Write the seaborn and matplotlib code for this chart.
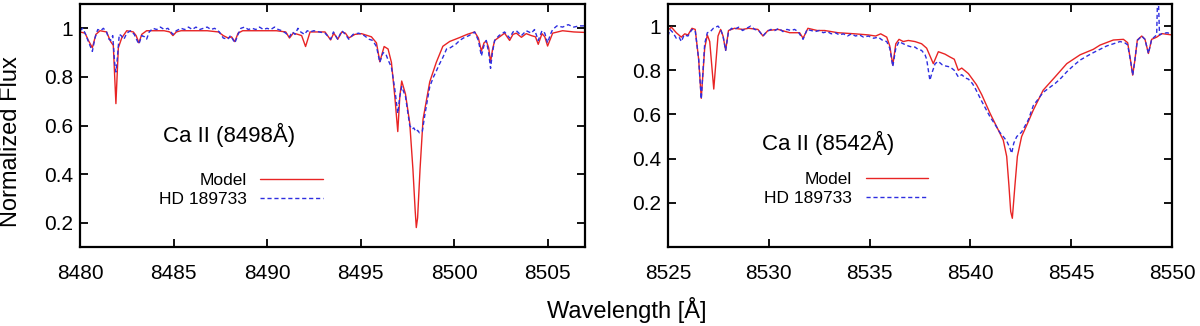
import numpy as np
import pandas as pd
import matplotlib
matplotlib.use('Agg')
import matplotlib.pyplot as plt
import seaborn as sns

# Ca II 8498 panel - model spectrum
left_model_wave = [
    8480.0, 8480.27, 8480.45, 8480.66, 8480.85, 8481.07, 8481.42, 8481.64, 8481.78, 8481.92,
    8482.05, 8482.23, 8482.5, 8482.85, 8483.0, 8483.15, 8483.3, 8483.56, 8483.9, 8484.5,
    8484.8, 8484.97, 8485.15, 8485.4, 8486.0, 8486.8, 8487.4, 8487.66, 8487.92, 8488.1,
    8488.28, 8488.45, 8488.7, 8489.5, 8490.5, 8491.0, 8491.2, 8491.4, 8491.65, 8491.85,
    8492.06, 8492.3, 8493.1, 8493.4, 8493.57, 8493.78, 8494.0, 8494.19, 8494.37, 8494.7,
    8495.05, 8495.58, 8495.85, 8496.03, 8496.26, 8496.47, 8496.65, 8496.83, 8496.99, 8497.1,
    8497.2, 8497.4, 8497.63, 8497.8, 8497.92, 8497.98, 8498.05, 8498.18, 8498.34, 8498.7,
    8499.05, 8499.4, 8499.77, 8500.3, 8500.7, 8501.1, 8501.3, 8501.46, 8501.6, 8501.72,
    8501.85, 8501.95, 8502.05, 8502.17, 8502.7, 8502.97, 8503.15, 8503.33, 8503.6, 8503.86,
    8504.13, 8504.35, 8504.5, 8504.7, 8504.85, 8505.0, 8505.27, 8505.8, 8506.4, 8507.0]
left_model_flux = [
    0.985, 0.98, 0.95, 0.92, 0.975, 0.99, 0.985, 0.945, 0.93, 0.69,
    0.92, 0.96, 0.99, 0.985, 0.97, 0.94, 0.975, 0.99, 0.99, 0.99,
    0.985, 0.97, 0.985, 0.99, 0.99, 0.99, 0.985, 0.97, 0.96, 0.965,
    0.945, 0.98, 0.99, 0.99, 0.99, 0.985, 0.96, 0.98, 0.975, 0.97,
    0.925, 0.985, 0.985, 0.952, 0.98, 0.955, 0.985, 0.98, 0.96, 0.975,
    0.978, 0.965, 0.94, 0.862, 0.925, 0.915, 0.86, 0.72, 0.575, 0.72,
    0.783, 0.73, 0.61, 0.42, 0.25, 0.18, 0.22, 0.42, 0.625, 0.78,
    0.86, 0.926, 0.946, 0.962, 0.975, 0.985, 0.96, 0.906, 0.94, 0.948,
    0.92, 0.86, 0.91, 0.95, 0.98, 0.95, 0.975, 0.98, 0.963, 0.978,
    0.97, 0.965, 0.934, 0.978, 0.965, 0.927, 0.98, 0.99, 0.985, 0.983]

# Ca II 8498 panel - HD 189733
left_obs_wave = [
    8480.0, 8480.15, 8480.3, 8480.45, 8480.66, 8480.8, 8480.95, 8481.1, 8481.25, 8481.42,
    8481.55, 8481.64, 8481.75, 8481.85, 8481.92, 8482.0, 8482.1, 8482.2, 8482.35, 8482.5,
    8482.7, 8482.9, 8483.05, 8483.15, 8483.3, 8483.45, 8483.56, 8483.7, 8483.9, 8484.1,
    8484.3, 8484.5, 8484.7, 8484.97, 8485.15, 8485.4, 8485.6, 8485.8, 8486.0, 8486.2,
    8486.4, 8486.6, 8486.8, 8487.0, 8487.2, 8487.45, 8487.66, 8487.9, 8488.05, 8488.28,
    8488.45, 8488.6, 8488.8, 8489.0, 8489.2, 8489.4, 8489.6, 8489.8, 8490.0, 8490.2,
    8490.4, 8490.6, 8490.8, 8491.0, 8491.2, 8491.35, 8491.5, 8491.65, 8491.8, 8492.0,
    8492.15, 8492.3, 8492.5, 8492.8, 8493.1, 8493.4, 8493.55, 8493.78, 8494.0, 8494.19,
    8494.37, 8494.6, 8494.9, 8495.2, 8495.45, 8495.65, 8495.85, 8496.03, 8496.2, 8496.35,
    8496.47, 8496.65, 8496.83, 8496.99, 8497.1, 8497.2, 8497.4, 8497.63, 8497.75, 8497.85,
    8497.95, 8498.05, 8498.15, 8498.3, 8498.45, 8498.7, 8498.9, 8499.05, 8499.2, 8499.4,
    8499.6, 8499.8, 8500.1, 8500.3, 8500.5, 8500.8, 8501.1, 8501.3, 8501.46, 8501.6,
    8501.72, 8501.85, 8501.95, 8502.05, 8502.17, 8502.4, 8502.7, 8502.97, 8503.15, 8503.33,
    8503.6, 8503.86, 8504.13, 8504.3, 8504.5, 8504.7, 8504.85, 8505.0, 8505.15, 8505.27,
    8505.5, 8505.8, 8506.1, 8506.4, 8506.7, 8507.0]
left_obs_flux = [
    0.99, 1.0, 0.975, 0.945, 0.905, 0.96, 0.995, 0.99, 1.0, 0.985,
    0.955, 0.95, 0.97, 0.86, 0.82, 0.88, 0.975, 0.97, 0.955, 0.98,
    0.99, 0.975, 0.95, 0.935, 0.97, 0.965, 0.955, 0.985, 1.0, 0.995,
    1.005, 0.995, 1.0, 0.975, 0.99, 1.0, 0.995, 1.005, 0.995, 1.005,
    0.995, 1.0, 1.005, 0.995, 1.0, 0.985, 0.96, 0.955, 0.97, 0.94,
    0.975, 1.0, 1.005, 0.995, 1.0, 0.995, 1.005, 0.995, 1.0, 0.995,
    1.005, 0.995, 0.99, 0.98, 0.965, 0.985, 0.975, 1.0, 0.985, 0.975,
    0.99, 0.985, 0.99, 0.985, 0.98, 0.955, 0.985, 0.955, 0.99, 0.975,
    0.955, 0.975, 0.98, 0.97, 0.955, 0.95, 0.925, 0.86, 0.9, 0.895,
    0.87, 0.84, 0.75, 0.65, 0.72, 0.76, 0.72, 0.6, 0.585, 0.59,
    0.575, 0.58, 0.57, 0.575, 0.65, 0.76, 0.8, 0.824, 0.85, 0.88,
    0.915, 0.92, 0.935, 0.95, 0.96, 0.97, 0.985, 0.95, 0.886, 0.93,
    0.95, 0.9, 0.835, 0.9, 0.95, 0.97, 0.985, 0.96, 0.985, 0.99,
    0.97, 0.99, 0.98, 0.995, 0.95, 0.99, 0.98, 0.94, 0.975, 0.995,
    1.01, 1.005, 1.015, 1.005, 1.01, 1.01]

# Ca II 8542 panel - model spectrum
right_model_wave = [
    8525.0, 8525.17, 8525.41, 8525.66, 8525.83, 8525.99, 8526.19, 8526.35, 8526.52, 8526.65,
    8526.82, 8526.95, 8527.07, 8527.27, 8527.48, 8527.61, 8527.73, 8527.86, 8528.0, 8528.3,
    8528.7, 8529.0, 8529.46, 8529.71, 8529.96, 8530.46, 8531.04, 8531.28, 8531.53, 8531.7,
    8531.94, 8532.4, 8532.77, 8533.43, 8534.27, 8534.94, 8535.3, 8535.55, 8535.85, 8536.0,
    8536.15, 8536.3, 8536.46, 8536.67, 8536.92, 8537.25, 8537.58, 8537.83, 8538.16, 8538.41,
    8538.74, 8538.99, 8539.2, 8539.4, 8539.57, 8539.9, 8540.3, 8540.56, 8540.97, 8541.3,
    8541.63, 8541.8, 8541.91, 8542.0, 8542.08, 8542.21, 8542.33, 8542.54, 8542.87, 8543.12,
    8543.61, 8544.2, 8544.78, 8545.44, 8546.1, 8546.43, 8547.09, 8547.59, 8547.8, 8547.95,
    8548.05, 8548.15, 8548.28, 8548.5, 8548.66, 8548.83, 8548.99, 8549.24, 8549.49, 8550.0]
right_model_flux = [
    0.982, 0.995, 0.97, 0.95, 0.965, 0.96, 0.99, 0.985, 0.85, 0.673,
    0.9, 0.96, 0.93, 0.715, 0.955, 0.985, 0.955, 0.89, 0.98, 0.99,
    0.985, 0.99, 0.985, 0.955, 0.98, 0.985, 0.97, 0.97, 0.97, 0.945,
    0.99, 0.98, 0.98, 0.97, 0.965, 0.96, 0.955, 0.965, 0.95, 0.91,
    0.824, 0.92, 0.94, 0.93, 0.935, 0.93, 0.92, 0.9, 0.83, 0.884,
    0.873, 0.86, 0.85, 0.8, 0.81, 0.785, 0.735, 0.69, 0.606, 0.545,
    0.484, 0.41, 0.28, 0.16, 0.13, 0.28, 0.41, 0.5, 0.567, 0.62,
    0.71, 0.77, 0.83, 0.87, 0.895, 0.914, 0.937, 0.94, 0.925, 0.84,
    0.778, 0.84, 0.937, 0.955, 0.94, 0.876, 0.94, 0.95, 0.966, 0.96]

# Ca II 8542 panel - HD 189733
right_obs_wave = [
    8525.0, 8525.1, 8525.25, 8525.41, 8525.55, 8525.66, 8525.8, 8525.99, 8526.19, 8526.35,
    8526.52, 8526.65, 8526.82, 8526.95, 8527.1, 8527.25, 8527.48, 8527.61, 8527.73, 8527.86,
    8528.0, 8528.15, 8528.3, 8528.5, 8528.7, 8528.9, 8529.1, 8529.3, 8529.5, 8529.71,
    8529.9, 8530.1, 8530.3, 8530.5, 8530.7, 8530.9, 8531.1, 8531.28, 8531.45, 8531.7,
    8531.9, 8532.1, 8532.3, 8532.5, 8532.7, 8532.9, 8533.1, 8533.3, 8533.5, 8533.7,
    8533.9, 8534.1, 8534.3, 8534.5, 8534.7, 8534.94, 8535.2, 8535.43, 8535.65, 8535.85,
    8536.0, 8536.15, 8536.3, 8536.46, 8536.67, 8536.8, 8536.92, 8537.1, 8537.25, 8537.4,
    8537.58, 8537.75, 8537.83, 8537.99, 8538.1, 8538.25, 8538.41, 8538.6, 8538.74, 8538.99,
    8539.2, 8539.4, 8539.57, 8539.75, 8539.9, 8540.1, 8540.23, 8540.56, 8540.97, 8541.22,
    8541.45, 8541.63, 8541.8, 8541.95, 8542.05, 8542.15, 8542.3, 8542.54, 8542.87, 8543.12,
    8543.61, 8543.9, 8544.2, 8544.5, 8544.78, 8545.1, 8545.44, 8545.8, 8546.1, 8546.43,
    8546.76, 8547.1, 8547.42, 8547.65, 8547.8, 8547.95, 8548.05, 8548.15, 8548.28, 8548.5,
    8548.66, 8548.83, 8548.99, 8549.24, 8549.3, 8549.38, 8549.49, 8549.75, 8550.0]
right_obs_flux = [
    0.955, 0.985, 0.97, 0.945, 0.95, 0.93, 0.96, 0.955, 0.985, 0.98,
    0.85, 0.67, 0.92, 0.97, 0.975, 0.99, 1.0, 0.985, 0.955, 0.89,
    0.975, 0.99, 0.985, 0.995, 0.98, 0.99, 1.0, 0.985, 0.98, 0.955,
    0.975, 0.985, 0.98, 0.99, 0.975, 0.985, 0.98, 0.985, 0.975, 0.94,
    0.985, 0.98, 0.975, 0.98, 0.97, 0.975, 0.965, 0.97, 0.96, 0.965,
    0.955, 0.965, 0.955, 0.96, 0.95, 0.955, 0.945, 0.95, 0.935, 0.93,
    0.9, 0.817, 0.9, 0.93, 0.92, 0.915, 0.91, 0.905, 0.905, 0.895,
    0.89, 0.87, 0.85, 0.755, 0.79, 0.83, 0.84, 0.825, 0.82, 0.815,
    0.8, 0.77, 0.78, 0.765, 0.76, 0.74, 0.72, 0.66, 0.59, 0.555,
    0.52, 0.5, 0.48, 0.45, 0.424, 0.47, 0.5, 0.52, 0.575, 0.64,
    0.7, 0.72, 0.74, 0.765, 0.793, 0.82, 0.846, 0.865, 0.88, 0.895,
    0.91, 0.92, 0.93, 0.925, 0.915, 0.84, 0.778, 0.84, 0.935, 0.955,
    0.94, 0.876, 0.94, 0.96, 1.2, 0.96, 0.965, 0.97, 0.965]

left_xticks = [8480, 8485, 8490, 8495, 8500, 8505]
right_xticks = [8525, 8530, 8535, 8540, 8545, 8550]
yticks = [0.2, 0.4, 0.6, 0.8, 1.0]
ytick_labels = ['0.2', '0.4', '0.6', '0.8', '1']

MODEL_COLOR = '#e82424'
OBS_COLOR = '#2e2ee0'

sns.set_style('ticks')
plt.rcParams['font.family'] = ['Liberation Sans', 'DejaVu Sans']
plt.rcParams['text.color'] = 'black'
plt.rcParams['axes.labelcolor'] = 'black'
plt.rcParams['xtick.color'] = 'black'
plt.rcParams['ytick.color'] = 'black'


def draw_panel(ax, mw, mf, ow, of, xlim, ylim, xticks, title, title_pos, leg_anchor):
    model = pd.DataFrame({'wave': mw, 'flux': mf})
    obs = pd.DataFrame({'wave': ow, 'flux': of})
    sns.lineplot(data=model, x='wave', y='flux', ax=ax, color=MODEL_COLOR, lw=1.0,
                 estimator=None, sort=False, label='Model')
    sns.lineplot(data=obs, x='wave', y='flux', ax=ax, color=OBS_COLOR, lw=1.0,
                 linestyle=(0, (3, 2)), estimator=None, sort=False, label='HD 189733')
    ax.set_xlim(*xlim)
    ax.set_ylim(*ylim)
    ax.set_xticks(xticks)
    ax.set_xticklabels([str(t) for t in xticks])
    ax.set_yticks(yticks)
    ax.set_yticklabels(ytick_labels)
    ax.set_xlabel('')
    ax.set_ylabel('')
    ax.tick_params(direction='in', top=True, right=True, length=6, width=1.3,
                   labelsize=15, color='black', labelcolor='black')
    ax.tick_params(axis='x', pad=12)
    ax.tick_params(axis='y', pad=5)
    for sp in ax.spines.values():
        sp.set_visible(True)
        sp.set_linewidth(1.6)
        sp.set_color('black')
    ax.text(title_pos[0], title_pos[1], title, transform=ax.transAxes,
            fontsize=16, ha='left', va='center', color='black')
    leg = ax.legend(loc='center right', bbox_to_anchor=leg_anchor, markerfirst=False,
                    frameon=False, handlelength=3.6, handletextpad=0.8, labelspacing=0.2,
                    fontsize=12.5, borderpad=0, borderaxespad=0)
    for t in leg.get_texts():
        t.set_color('black')


fig = plt.figure(figsize=(12, 3.26), dpi=100)
ax1 = fig.add_axes([80 / 1200, 79 / 326, 505 / 1200, 243 / 326])
ax2 = fig.add_axes([668 / 1200, 79 / 326, 504 / 1200, 243 / 326])

draw_panel(ax1, left_model_wave, left_model_flux, left_obs_wave, left_obs_flux,
           (8480, 8507), (0.1, 1.1), left_xticks, 'Ca II (8498Å)', (0.164, 0.46), (0.481, 0.235))
draw_panel(ax2, right_model_wave, right_model_flux, right_obs_wave, right_obs_flux,
           (8525, 8550), (0.0, 1.1), right_xticks, 'Ca II (8542Å)', (0.186, 0.428), (0.516, 0.239))

fig.text(0.522, 0.049, 'Wavelength [Å]', ha='center', va='center', fontsize=17, color='black')
fig.text(0.009, 0.565, 'Normalized Flux', rotation=90, ha='center', va='center',
         fontsize=17, color='black')

fig.savefig('out.png', dpi=100)
